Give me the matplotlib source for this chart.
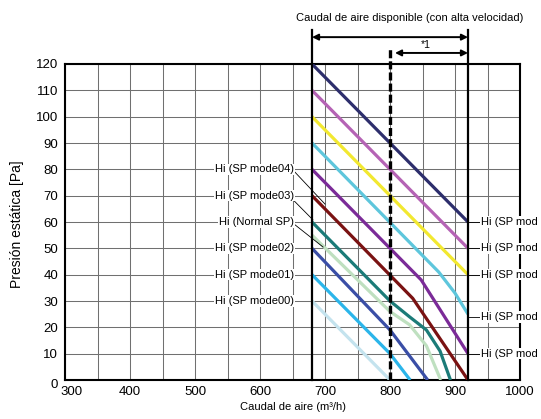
import matplotlib
matplotlib.use("Agg")
import matplotlib.pyplot as plt
import matplotlib.transforms as mtransforms

plt.rcParams['font.family'] = ['Liberation Sans', 'DejaVu Sans']
plt.rcParams['lines.scale_dashes'] = False

# ---- data ----
x_ticks = [300, 400, 500, 600, 700, 800, 900, 1000]
y_ticks = [0, 10, 20, 30, 40, 50, 60, 70, 80, 90, 100, 110, 120]

mode09_x = [680, 920]
mode09_y = [120, 60]
mode08_x = [680, 920]
mode08_y = [110, 50]
mode07_x = [680, 920]
mode07_y = [100, 40]
mode06_x = [680, 875, 900, 920]
mode06_y = [90, 41, 33, 25]
mode05_x = [680, 848, 920]
mode05_y = [80, 38, 10]
mode04_x = [680, 835, 920]
mode04_y = [70, 31, 0]
mode03_x = [680, 800, 830, 856, 877, 893]
mode03_y = [60, 30, 24, 19, 11, 0]
normal_x = [680, 800, 830, 856, 878]
normal_y = [55, 26, 21, 13, 0]
mode02_x = [680, 800, 858]
mode02_y = [50, 19, 0]
mode01_x = [680, 800, 831]
mode01_y = [40, 10, 0]
mode00_x = [680, 800]
mode00_y = [30, 0]

left_labels = ["Hi (SP mode04)", "Hi (SP mode03)", "Hi (Normal SP)",
               "Hi (SP mode02)", "Hi (SP mode01)", "Hi (SP mode00)"]
left_label_y = [80, 70, 60, 50, 40, 30]
right_labels = ["Hi (SP mod", "Hi (SP mod", "Hi (SP mod", "Hi (SP mod", "Hi (SP mod"]
right_label_y = [60, 50, 40, 24, 10]

range_min, range_max, limit_flow = 680, 920, 800

series = [
    (mode00_x, mode00_y, '#c4e3ee'),
    (mode01_x, mode01_y, '#2bb5ea'),
    (mode02_x, mode02_y, '#3a4ea6'),
    (normal_x, normal_y, '#bfe0c0'),
    (mode03_x, mode03_y, '#1b7b78'),
    (mode04_x, mode04_y, '#7a1212'),
    (mode05_x, mode05_y, '#7b2b98'),
    (mode06_x, mode06_y, '#5ec6dc'),
    (mode07_x, mode07_y, '#f2e830'),
    (mode08_x, mode08_y, '#b563b5'),
    (mode09_x, mode09_y, '#2d2e6c'),
]

# ---- figure ----
fig = plt.figure(figsize=(5.41, 4.19), dpi=100)
ax = fig.add_axes([65/541, 39/419, 455/541, 316/419])
ax.set_xlim(300, 1000)
ax.set_ylim(0, 120)

ax.set_xticks(x_ticks)
ax.set_xticks(list(range(350, 1000, 100)), minor=True)
ax.set_yticks(y_ticks)
ax.grid(which='both', color='#707070', lw=0.75, zorder=0)
ax.set_axisbelow(True)
ax.tick_params(which='both', length=0, labelsize=9.5)
ax.tick_params(axis='x', pad=4)
ax.tick_params(axis='y', pad=5)
for sp in ax.spines.values():
    sp.set_linewidth(1.5)
    sp.set_color('black')

# shift first x label and the 0 y label a bit
xl = ax.get_xticklabels()
xl[0].set_transform(xl[0].get_transform() + mtransforms.ScaledTranslation(7/100, 0, fig.dpi_scale_trans))
yl = ax.get_yticklabels()
yl[0].set_transform(yl[0].get_transform() + mtransforms.ScaledTranslation(0, -3/100, fig.dpi_scale_trans))

for xs, ys, c in series:
    ax.plot(xs, ys, color=c, lw=2.3, solid_capstyle='butt', zorder=3)

# range lines
for xv in (range_min, range_max):
    ax.plot([xv, xv], [0, 132.9], color='black', lw=1.6, clip_on=False, zorder=5)
ax.plot([limit_flow, limit_flow], [0, 126.1], color='black', lw=2.4,
        dashes=(5.8, 2.2), clip_on=False, zorder=6)

ax.annotate('', xy=(range_max, 130.2), xytext=(range_min, 130.2),
            arrowprops=dict(arrowstyle='<|-|>', color='black', lw=1.4,
                            mutation_scale=9, shrinkA=0, shrinkB=0),
            annotation_clip=False)
ax.annotate('', xy=(range_max, 124.2), xytext=(807.7, 124.2),
            arrowprops=dict(arrowstyle='<|-|>', color='black', lw=1.4,
                            mutation_scale=9, shrinkA=0, shrinkB=0),
            annotation_clip=False)
ax.text(855, 127.2, '*1', fontsize=7.5, ha='center', va='center')
ax.text(831, 137.5, 'Caudal de aire disponible (con alta velocidad)',
        fontsize=8, ha='center', va='center')

# left labels
bb = dict(facecolor='white', edgecolor='none', pad=0.6)
for lab, yv in zip(left_labels, left_label_y):
    ax.text(652, yv, lab, fontsize=8, ha='right', va='center', bbox=bb, zorder=7)
# leader lines
ax.plot([652, 700], [79.4, 66.8], color='black', lw=0.6, zorder=6)
ax.plot([651, 681.5], [68.4, 60.8], color='black', lw=0.6, zorder=6)
ax.plot([654, 697], [58.9, 50.5], color='black', lw=0.6, zorder=6)

# right labels
for lab, yv in zip(right_labels, right_label_y):
    ax.plot([range_max, 940], [yv, yv], color='black', lw=0.6, zorder=6, clip_on=False)
    ax.text(940, yv, lab, fontsize=8, ha='left', va='center', bbox=bb, zorder=7,
            clip_on=False)

ax.set_xlabel('Caudal de aire (m³/h)', fontsize=8,
              family=['Liberation Sans Narrow', 'Liberation Sans', 'DejaVu Sans'],
              labelpad=3)
fig.text(17/541, 1 - 224/419, 'Presión estática [Pa]', rotation=90,
         fontsize=10, ha='center', va='center')

fig.savefig('out.png', dpi=100)
